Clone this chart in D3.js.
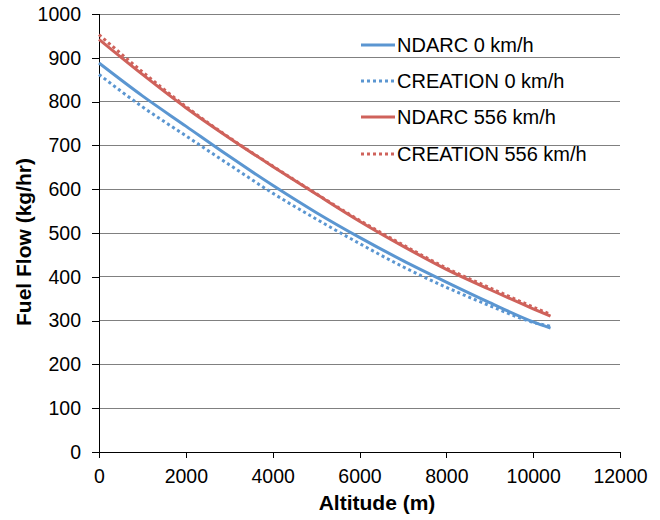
<!DOCTYPE html>
<html>
<head>
<meta charset="utf-8">
<script src="https://cdn.jsdelivr.net/npm/d3@7"></script>
<style>
  html, body { margin: 0; padding: 0; background: #fff; }
  text { font-family: "Liberation Sans", Arial, sans-serif; }
</style>
</head>
<body>
<svg id="chart" width="660" height="520"></svg>
<script>
const altitudes = [0, 1000, 2000, 3000, 4000, 5000, 6000, 7000, 8000, 9000, 10000, 10400];
const ndarc0 = [888, 813, 744, 675, 609, 547, 490, 437, 388, 341, 297, 283];
const creation0 = [862, 788, 722, 656, 591, 532, 476, 423, 376, 334, 296, 287];
const ndarc556 = [942, 862, 786, 717, 652, 589, 527, 470, 417, 371, 327, 310];
const creation556 = [953, 868, 789, 718, 653, 590, 529, 473, 420, 375, 331, 314];
const seriesNames = ["NDARC 0 km/h", "CREATION 0 km/h", "NDARC 556 km/h", "CREATION 556 km/h"];
const xTicks = [0, 2000, 4000, 6000, 8000, 10000, 12000];
const yTicks = [0, 100, 200, 300, 400, 500, 600, 700, 800, 900, 1000];

const blue = "#5B96D1", red = "#CF625B";
const series = [
  { name: seriesNames[0], values: ndarc0, color: blue, dash: null },
  { name: seriesNames[1], values: creation0, color: blue, dash: "3,3" },
  { name: seriesNames[2], values: ndarc556, color: red, dash: null },
  { name: seriesNames[3], values: creation556, color: red, dash: "3,3" }
];

const svg = d3.select("#chart");
const mLeft = 99, mRight = 620, mTop = 14, mBottom = 452;
const x = d3.scaleLinear().domain([0, 12000]).range([mLeft, mRight]);
const y = d3.scaleLinear().domain([0, 1000]).range([mBottom, mTop]);

// gridlines
svg.append("g").selectAll("line").data(yTicks.filter(d => d > 0)).join("line")
  .attr("x1", mLeft).attr("x2", mRight)
  .attr("y1", d => y(d)).attr("y2", d => y(d))
  .attr("stroke", "#808080").attr("stroke-width", 1).attr("shape-rendering", "crispEdges");

// y axis
const yAxis = svg.append("g").attr("transform", `translate(${mLeft},0)`)
  .call(d3.axisLeft(y).tickValues(yTicks).tickSize(7).tickPadding(11).tickFormat(d3.format("d")));
yAxis.select(".domain").attr("stroke", "#000").attr("shape-rendering", "crispEdges");
yAxis.selectAll(".tick line").attr("stroke", "#000").attr("shape-rendering", "crispEdges");
yAxis.selectAll("text").attr("font-size", 19.5).attr("fill", "#000")
  .attr("font-family", "'Liberation Sans', Arial, sans-serif");

// x axis
const xAxis = svg.append("g").attr("transform", `translate(0,${mBottom})`)
  .call(d3.axisBottom(x).tickValues(xTicks).tickSize(6).tickPadding(11).tickFormat(d3.format("d")));
xAxis.select(".domain").attr("stroke", "#000").attr("shape-rendering", "crispEdges");
xAxis.selectAll(".tick line").attr("stroke", "#000").attr("shape-rendering", "crispEdges");
xAxis.selectAll("text").attr("font-size", 19.5).attr("fill", "#000")
  .attr("font-family", "'Liberation Sans', Arial, sans-serif");

// lines
const line = d3.line().x((d, i) => x(altitudes[i])).y(d => y(d)).curve(d3.curveMonotoneX);
svg.append("g").selectAll("path").data(series).join("path")
  .attr("d", d => line(d.values))
  .attr("fill", "none")
  .attr("stroke", d => d.color)
  .attr("stroke-width", 3)
  .attr("stroke-dasharray", d => d.dash);

// legend
const legend = svg.append("g");
const legY = [45, 81, 117, 154];
series.forEach((s, i) => {
  legend.append("line")
    .attr("x1", 361).attr("x2", 395)
    .attr("y1", legY[i]).attr("y2", legY[i])
    .attr("stroke", s.color).attr("stroke-width", 3)
    .attr("stroke-dasharray", s.dash);
  legend.append("text")
    .attr("x", 397).attr("y", legY[i]).attr("dy", "0.36em")
    .attr("font-size", 20).attr("fill", "#000")
    .text(s.name);
});

// axis titles
svg.append("text")
  .attr("x", 377).attr("y", 510)
  .attr("text-anchor", "middle").attr("font-size", 21).attr("font-weight", "bold")
  .text("Altitude (m)");
svg.append("text")
  .attr("transform", "translate(31,242) rotate(-90)")
  .attr("text-anchor", "middle").attr("font-size", 21).attr("font-weight", "bold")
  .text("Fuel Flow (kg/hr)");
</script>
</body>
</html>
